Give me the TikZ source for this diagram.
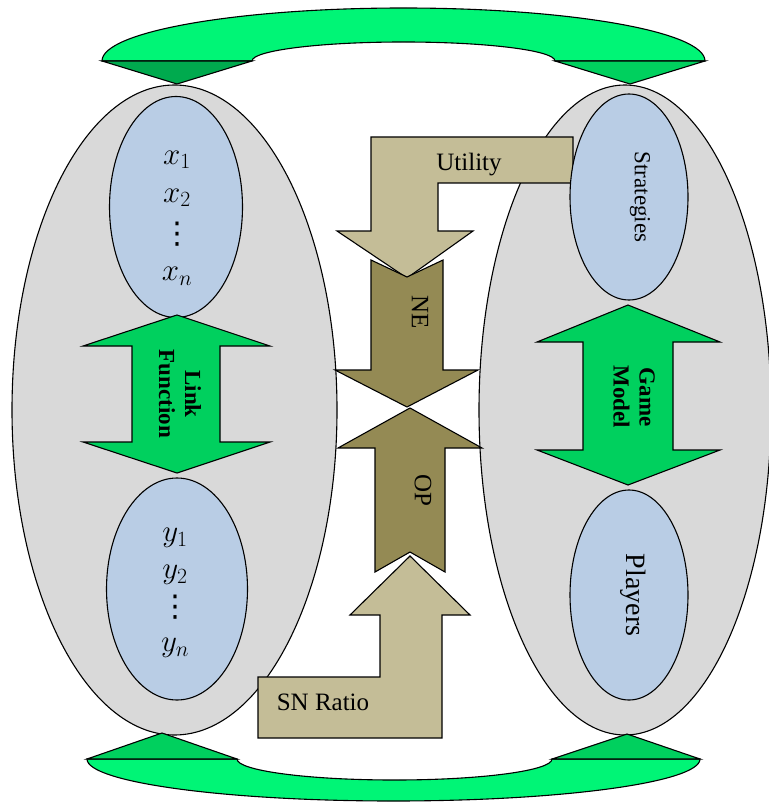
\RequirePackage{fix-cm}
\documentclass[tikz,border=0pt]{standalone}
\usepackage{fontspec}
\setmainfont{Liberation Serif}
\newfontfamily\dejavusym{DejaVu Sans}
\usetikzlibrary{shapes.geometric}
\definecolor{grayfill}{HTML}{D9D9D9}
\definecolor{bluefill}{HTML}{B9CDE5}
\definecolor{greenA}{HTML}{00D05E}
\definecolor{greenB}{HTML}{00F576}
\definecolor{greenC}{HTML}{00AA4E}
\definecolor{tanfill}{HTML}{C4BD97}
\definecolor{olivefill}{HTML}{948A54}
\tikzset{
  outline/.style={draw=black, line width=1.1pt, line join=miter},
  bigoval/.style={outline, ellipse, fill=grayfill, inner sep=0pt},
  smalloval/.style={outline, ellipse, fill=bluefill, inner sep=0pt},
  txt/.style={font=\fontsize{25}{30}\selectfont, inner sep=0pt},
  boldtxt/.style={font=\fontsize{23}{26}\selectfont\bfseries, align=center, inner sep=0pt},
  mathtxt/.style={font=\fontsize{31}{34}\selectfont, inner sep=0pt},
  dotstxt/.style={font=\fontsize{30}{34}\dejavusym, inner sep=0pt}
}
\begin{document}
\begin{tikzpicture}[x=1pt,y=-1pt]
\useasboundingbox (0,0) rectangle (768,802);
% large gray ovals
\node[bigoval, minimum width=325pt, minimum height=650pt] (leftoval) at (174.5,410) {};
\node[bigoval, minimum width=292pt, minimum height=650pt] (rightoval) at (625,410) {};
% inner blue ovals
\node[smalloval, minimum width=133pt, minimum height=221pt] (xoval) at (176,207) {};
\node[smalloval, minimum width=141pt, minimum height=222pt] (yoval) at (177,589) {};
\node[smalloval, minimum width=118pt, minimum height=210pt] (playoval) at (629,595) {};
% green double arrows
\draw[outline, fill=greenA] (177,315) -- (270,346) -- (220,346) -- (220,442) -- (270,442) -- (177,473) -- (83,442) -- (132,442) -- (132,346) -- (83,346) -- cycle;
\draw[outline, fill=greenA] (628,305) -- (720,342) -- (673,342) -- (673,450) -- (720,450) -- (628,485) -- (537,450) -- (583,450) -- (583,342) -- (537,342) -- cycle;
% centre arrows
\draw[outline, fill=tanfill] (371,137) -- (573,137) -- (573,183) -- (438,183) -- (438,231) -- (473,231) -- (407,278) -- (337,231) -- (371,231) -- cycle;
\draw[outline, fill=olivefill] (371,260) -- (407,277) -- (443,260) -- (443,370) -- (478,370) -- (407,407) -- (335,370) -- (371,370) -- cycle;
\draw[outline, fill=olivefill] (410,408) -- (482,448) -- (445,448) -- (445,572) -- (410,552) -- (375,572) -- (375,448) -- (338,448) -- cycle;
\draw[outline, fill=tanfill] (410,556) -- (470,615) -- (442,615) -- (442,738) -- (258,738) -- (258,677) -- (380,677) -- (380,615) -- (350,615) -- cycle;
% strategies oval on top of the utility bar
\node[smalloval, minimum width=118pt, minimum height=206pt] (stratoval) at (629,197) {};
% top curved arrow
\draw[outline, fill=greenB] (102,61) arc[start angle=180, end angle=360, x radius=301.5, y radius=53] -- (555,61) arc[start angle=360, end angle=180, x radius=151.5, y radius=19] -- cycle;
\draw[outline, fill=greenC] (102,61) -- (252,61) -- (177,84) -- cycle;
\draw[outline, fill=greenA] (555,61) -- (705,61) -- (630,84) -- cycle;
% bottom curved arrow
\draw[outline, fill=greenB] (87,759) arc[start angle=180, end angle=0, x radius=306.5, y radius=42] -- (552,759) arc[start angle=0, end angle=180, x radius=157.5, y radius=21] -- cycle;
\draw[outline, fill=greenA] (87,759) -- (237,759) -- (162,733) -- cycle;
\draw[outline, fill=greenA] (552,759) -- (700,759) -- (627,734) -- cycle;
% texts
\node[mathtxt] (x1) at (177,160) {$x_1$};
\node[mathtxt] (x2) at (177,198) {$x_2$};
\node[dotstxt] (xd) at (177,234) {⋮};
\node[mathtxt] (xn) at (177,276) {$x_n$};
\node[mathtxt] (y1) at (175,538) {$y_1$};
\node[mathtxt] (y2) at (175,575) {$y_2$};
\node[dotstxt] (yd) at (175,607) {⋮};
\node[mathtxt] (yn) at (175,648) {$y_n$};
\node[boldtxt, rotate=-90] (linkfn) at (180,394) {Link\\Function};
\node[boldtxt, rotate=-90] (gamemodel) at (634,397) {Game\\Model};
\node[txt] (utility) at (469,165) {Utility};
\node[txt, rotate=-90] (ne) at (420,312) {NE};
\node[txt, rotate=-90] (op) at (423,490) {OP};
\node[txt] (snratio) at (323,702) {SN Ratio};
\node[font=\fontsize{23}{26}\selectfont, inner sep=0pt, rotate=-90] (strat) at (640,197) {Strategies};
\node[font=\fontsize{28}{32}\selectfont, inner sep=0pt, rotate=-90] (players) at (633,595) {Players};
\end{tikzpicture}
\end{document}
